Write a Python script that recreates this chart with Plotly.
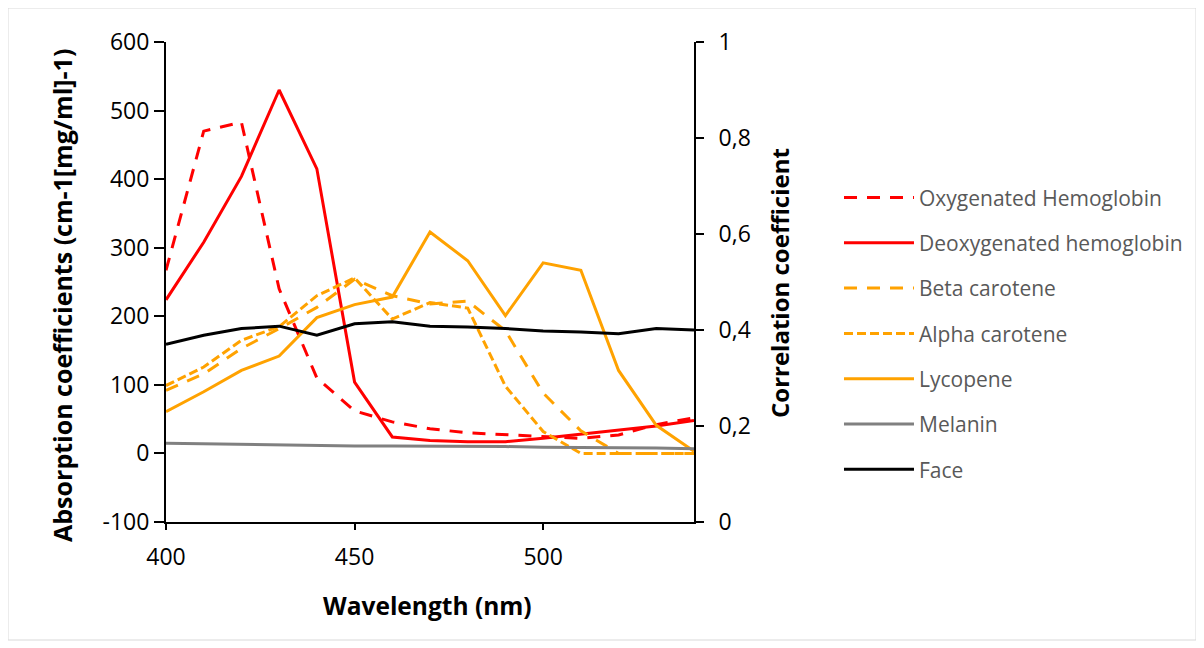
import plotly.graph_objects as go

wavelength = [400, 410, 420, 430, 440, 450, 460, 470, 480, 490, 500, 510, 520, 530, 540]
oxy_hb = [267, 470, 483, 240, 110, 62, 46, 36, 30, 27, 24, 22, 27, 42, 52]
deoxy_hb = [224, 308, 404, 530, 415, 104, 24, 19, 17, 17, 22, 28, 34, 40, 48]
beta_carotene = [92, 116, 153, 182, 213, 254, 230, 218, 222, 179, 88, 33, 0, 0, 0]
alpha_carotene = [99, 126, 165, 185, 230, 256, 196, 220, 212, 98, 32, 0, 0, 0, 0]
lycopene = [61, 90, 121, 142, 198, 217, 228, 323, 281, 201, 278, 267, 121, 41, 3]
melanin = [15, 14, 13, 13, 12, 11, 11, 11, 10, 10, 9, 9, 8, 8, 7]
face = [0.370, 0.389, 0.403, 0.408, 0.389, 0.413, 0.417, 0.408, 0.406, 0.403,
        0.398, 0.396, 0.392, 0.403, 0.400]

x_ticks = [400, 450, 500]
left_ticks = [-100, 0, 100, 200, 300, 400, 500, 600]
left_labels = ["-100", "0", "100", "200", "300", "400", "500", "600"]
right_ticks = [0, 0.2, 0.4, 0.6, 0.8, 1]
right_labels = ["0", "0,2", "0,4", "0,6", "0,8", "1"]

RED = "#FF0000"
ORANGE = "#FFA200"
GRAY = "#808080"
FONT = "Open Sans"

fig = go.Figure()
series = [
    ("Oxygenated Hemoglobin", oxy_hb, RED, "13px,10px", "y"),
    ("Deoxygenated hemoglobin", deoxy_hb, RED, "solid", "y"),
    ("Beta carotene", beta_carotene, ORANGE, "13px,10px", "y"),
    ("Alpha carotene", alpha_carotene, ORANGE, "9px,4px", "y"),
    ("Lycopene", lycopene, ORANGE, "solid", "y"),
    ("Melanin", melanin, GRAY, "solid", "y"),
    ("Face", face, "#000000", "solid", "y2"),
]
for i, (name, vals, col, dash, ax) in enumerate(series):
    fig.add_trace(go.Scatter(
        x=wavelength, y=vals, name=name, mode="lines", yaxis=ax,
        legendgroup="g%d" % i,
        line=dict(color=col, width=3, dash=dash),
    ))

fig.update_layout(
    width=1204, height=648,
    margin=dict(l=158, r=518, t=34, b=134),
    paper_bgcolor="white", plot_bgcolor="white",
    font=dict(family=FONT, size=23, color="#000000"),
    showlegend=True,
    legend=dict(x=1.2746, y=0.718, xanchor="left", yanchor="top",
                font=dict(family=FONT, size=21, color="#595959"),
                itemwidth=70,
                tracegroupgap=15, bgcolor="rgba(0,0,0,0)"),
    xaxis=dict(range=[400, 540], tickvals=x_ticks, showgrid=False, zeroline=False,
               showline=True, linecolor="black", linewidth=2,
               ticks="outside", ticklen=6, tickwidth=2, tickcolor="black",
               ticklabelstandoff=7,
               tickfont=dict(size=23, family=FONT)),
    yaxis=dict(range=[-100, 600], tickvals=left_ticks, ticktext=left_labels,
               showgrid=False, zeroline=False,
               showline=True, linecolor="black", linewidth=2,
               ticks="outside", ticklen=10, tickwidth=2, tickcolor="black",
               tickfont=dict(size=23, family=FONT)),
    yaxis2=dict(range=[0, 1], tickvals=right_ticks, ticktext=right_labels,
                overlaying="y", side="right", showgrid=False, zeroline=False,
                showline=True, linecolor="black", linewidth=2,
                ticks="outside", ticklen=8, tickwidth=2, tickcolor="black",
                ticklabelstandoff=10,
                tickfont=dict(size=23, family=FONT)),
    annotations=[
        dict(text="<b>Absorption coefficients (cm-1[mg/ml]-1)</b>", xref="paper", yref="paper",
             x=-0.197, y=0.473, xanchor="center", yanchor="middle", textangle=-90,
             showarrow=False, font=dict(family=FONT, size=25, color="black")),
        dict(text="<b>Correlation coefficient</b>", xref="paper", yref="paper",
             x=1.163, y=0.498, xanchor="center", yanchor="middle", textangle=-90,
             showarrow=False, font=dict(family=FONT, size=24, color="black")),
        dict(text="<b>Wavelength (nm)</b>", xref="paper", yref="paper",
             x=0.496, y=-0.173, xanchor="center", yanchor="middle",
             showarrow=False, font=dict(family=FONT, size=24.5, color="black")),
    ],
    shapes=[dict(type="rect", xref="paper", yref="paper",
                 x0=(8 - 166) / 528, x1=(1196 - 166) / 528,
                 y0=(522 - 640) / 480, y1=(522 - 8) / 480,
                 line=dict(color="#D9D9D9", width=1), layer="below")],
)

fig.write_html("out.html")
